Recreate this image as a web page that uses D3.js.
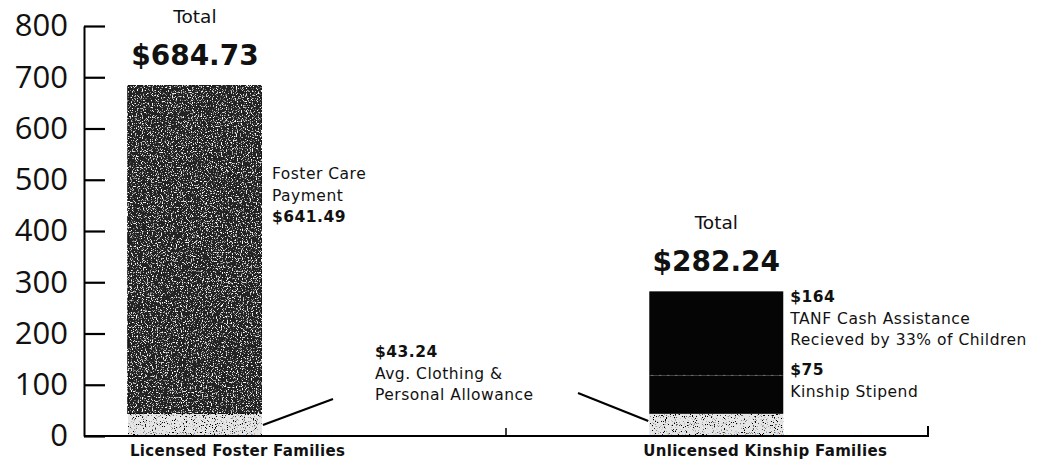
<!DOCTYPE html>
<html>
<head>
<meta charset="utf-8">
<script src="https://cdn.jsdelivr.net/npm/d3@7"></script>
<style>
  body { margin: 0; background: #fff; }
  svg { display: block; }
  .ann { font-family: "DejaVu Sans", sans-serif; fill: #111; }
</style>
</head>
<body>
<svg id="chart" width="1039" height="464"></svg>
<script>
// data
const categories = ["Licensed Foster Families", "Unlicensed Kinship Families"];
const allowance = [43.24, 43.24];
const fosterCare = [641.49, 0];
const kinshipStipend = [0, 75];
const tanf = [0, 164];
const totals = [684.73, 282.24];
const yTicks = [0, 100, 200, 300, 400, 500, 600, 700, 800];

var svg = d3.select("#chart");

var y = d3.scaleLinear().domain([0, 800]).range([436, 26]);
var x = d3.scaleBand().domain(categories).range([84, 928])
  .paddingInner(0.743).paddingOuter(0.181).align(0.233);

var money = function(v) { return Number.isInteger(v) ? "$" + v : "$" + v.toFixed(2); };

// grain filters to get the photocopied texture
var defs = svg.append("defs");
var fDark = defs.append("filter").attr("id", "grainDark")
  .attr("x", 0).attr("y", 0).attr("width", 1).attr("height", 1);
fDark.append("feTurbulence").attr("type", "fractalNoise").attr("baseFrequency", 0.8)
  .attr("numOctaves", 2).attr("seed", 4).attr("result", "noise");
fDark.append("feColorMatrix").attr("in", "noise").attr("type", "matrix")
  .attr("values", "0 0 0 0 1  0 0 0 0 1  0 0 0 0 1  6 0 0 0 -3.4").attr("result", "specks");
fDark.append("feComposite").attr("in", "specks").attr("in2", "SourceGraphic").attr("operator", "atop");

var fLight = defs.append("filter").attr("id", "grainLight")
  .attr("x", 0).attr("y", 0).attr("width", 1).attr("height", 1);
fLight.append("feTurbulence").attr("type", "fractalNoise").attr("baseFrequency", 0.9)
  .attr("numOctaves", 2).attr("seed", 9).attr("result", "noise");
fLight.append("feColorMatrix").attr("in", "noise").attr("type", "matrix")
  .attr("values", "0 0 0 0 0  0 0 0 0 0  0 0 0 0 0  -9 0 0 0 3.7").attr("result", "specks");
fLight.append("feComposite").attr("in", "specks").attr("in2", "SourceGraphic").attr("operator", "atop");

// stacked bars
var rows = categories.map(function(c, i) {
  return { category: c, allowance: allowance[i], fosterCare: fosterCare[i],
           stipend: kinshipStipend[i], tanf: tanf[i] };
});
var keys = ["allowance", "fosterCare", "stipend", "tanf"];
var fills = { allowance: "#e6e6e6", fosterCare: "#242424", stipend: "#050505", tanf: "#050505" };
var filters = { allowance: "url(#grainLight)", fosterCare: "url(#grainDark)", stipend: null, tanf: null };
var stacked = d3.stack().keys(keys)(rows);

stacked.forEach(function(layer) {
  svg.append("g").selectAll("rect")
    .data(layer.filter(function(d) { return d[1] - d[0] > 0; }))
    .enter()
    .append("rect")
    .attr("x", function(d) { return x(d.data.category); })
    .attr("y", function(d) { return y(d[1]); })
    .attr("width", x.bandwidth())
    .attr("height", function(d) { return y(d[0]) - y(d[1]); })
    .attr("fill", fills[layer.key])
    .attr("stroke", layer.key == "fosterCare" ? "#111" : "none")
    .attr("stroke-width", 1.5)
    .attr("filter", filters[layer.key]);
});

// faint dotted split between stipend and TANF
var splitY = y(allowance[1] + kinshipStipend[1]);
svg.append("line")
  .attr("x1", x(categories[1]) + 2).attr("x2", x(categories[1]) + x.bandwidth() - 2)
  .attr("y1", splitY).attr("y2", splitY)
  .attr("stroke", "#777").attr("stroke-width", 1).attr("stroke-dasharray", "2,6");

// y axis, ticks point into the chart
var yAxis = d3.axisLeft(y).tickValues(yTicks).tickSize(-21).tickSizeOuter(0).tickPadding(16);
var gy = svg.append("g").attr("transform", "translate(84,0)").call(yAxis);
gy.select(".domain").attr("stroke", "#000").attr("stroke-width", 2);
gy.selectAll(".tick line").attr("stroke", "#000").attr("stroke-width", 2.2);
gy.selectAll(".tick text")
  .attr("fill", "#111")
  .style("font-family", "'Open Sans', sans-serif")
  .style("font-size", "31px");

// baseline with the small end ticks
var xr = x.range();
svg.append("path")
  .attr("d", "M" + xr[0] + "," + y(0) + "H" + xr[1] + "V" + (y(0) - 10))
  .attr("fill", "none").attr("stroke", "#000").attr("stroke-width", 2);
svg.append("line")
  .attr("x1", (xr[0] + xr[1]) / 2).attr("x2", (xr[0] + xr[1]) / 2)
  .attr("y1", y(0)).attr("y2", y(0) - 8)
  .attr("stroke", "#000").attr("stroke-width", 1.5);

// category labels
svg.selectAll(".cat")
  .data(categories)
  .enter()
  .append("text")
  .attr("class", "ann")
  .attr("x", function(d, i) { return x(d) + (i ? -6 : 2); })
  .attr("y", 456)
  .style("font-size", "15px").style("font-weight", "bold").style("letter-spacing", "0.3px")
  .text(function(d) { return d; });

// totals above bars
categories.forEach(function(c, i) {
  var cx = x(c) + x.bandwidth() / 2;
  var top = y(totals[i]);
  svg.append("text").attr("class", "ann").attr("text-anchor", "middle")
    .attr("x", cx).attr("y", top - 62)
    .style("font-size", "18.5px").text("Total");
  svg.append("text").attr("class", "ann").attr("text-anchor", "middle")
    .attr("x", cx).attr("y", top - 20)
    .style("font-size", "28px").style("font-weight", "bold")
    .text(money(totals[i]));
});

function block(x0, y0, lines) {
  var t = svg.append("text").attr("class", "ann")
    .style("font-size", "15.5px").style("letter-spacing", "0.5px");
  lines.forEach(function(l, k) {
    t.append("tspan").attr("x", x0).attr("y", y0 + k * 21.5)
      .style("font-weight", l.bold ? "bold" : "normal").text(l.t);
  });
}

// foster care payment label
var bx0 = x(categories[0]) + x.bandwidth();
block(bx0 + 10, y((allowance[0] + totals[0]) / 2) - 70, [
  { t: "Foster Care" }, { t: "Payment" }, { t: money(fosterCare[0]), bold: true }
]);

// kinship labels
var bx1 = x(categories[1]) + x.bandwidth();
block(bx1 + 7, y(totals[1]) + 11, [
  { t: money(tanf[1]), bold: true }, { t: "TANF Cash Assistance" }, { t: "Recieved by 33% of Children" }
]);
block(bx1 + 7, splitY, [
  { t: money(kinshipStipend[1]), bold: true }, { t: "Kinship Stipend" }
]);

// allowance label with leader lines into both bars
block(375, 357, [
  { t: money(allowance[0]), bold: true }, { t: "Avg. Clothing &" }, { t: "Personal Allowance" }
]);
var midA = y(allowance[0] / 2);
svg.append("line").attr("x1", bx0 + 1).attr("y1", midA).attr("x2", 333).attr("y2", 399)
  .attr("stroke", "#000").attr("stroke-width", 2.2);
svg.append("line").attr("x1", 578).attr("y1", 393).attr("x2", x(categories[1]) - 1).attr("y2", midA - 4)
  .attr("stroke", "#000").attr("stroke-width", 2.2);
</script>
</body>
</html>
